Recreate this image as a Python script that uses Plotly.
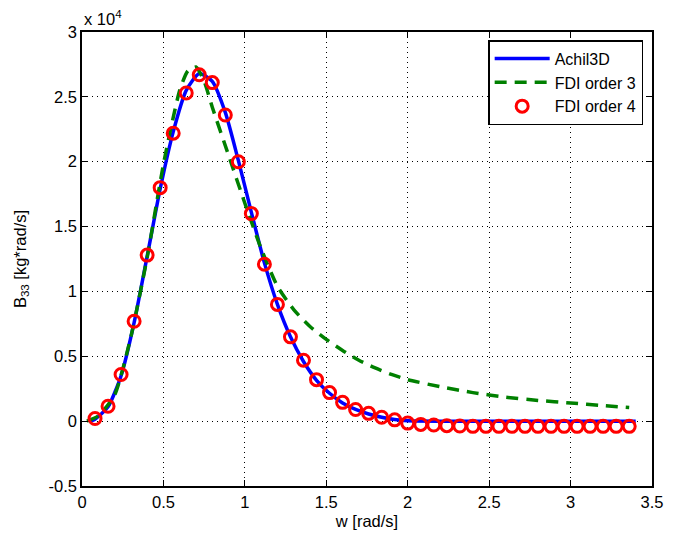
import plotly.graph_objects as go

# ---- data (B33 in kg*rad/s) ----
w_fdi4 = [0.08, 0.16, 0.24, 0.32, 0.40, 0.48, 0.56, 0.64, 0.72, 0.80, 0.88, 0.96, 1.04, 1.12,
          1.20, 1.28, 1.36, 1.44, 1.52, 1.60, 1.68, 1.76, 1.84, 1.92, 2.00, 2.08, 2.16, 2.24,
          2.32, 2.40, 2.48, 2.56, 2.64, 2.72, 2.80, 2.88, 2.96, 3.04, 3.12, 3.20, 3.28, 3.36]
b_fdi4 = [200, 1150, 3600, 7700, 12800, 18000, 22200, 25300, 26700, 26100, 23600, 20000, 16000, 12100,
          9000, 6500, 4700, 3200, 2200, 1450, 900, 600, 300, 100, -150, -250, -300, -350,
          -380, -400, -400, -400, -400, -400, -400, -400, -400, -400, -400, -400, -400, -400]

w_achil = [0.05, 0.08, 0.16, 0.24, 0.32, 0.40, 0.48, 0.56, 0.64, 0.72, 0.80, 0.88, 0.96, 1.04,
           1.12, 1.20, 1.28, 1.36, 1.44, 1.52, 1.60, 1.68, 1.76, 1.84, 1.92, 2.00, 2.20, 2.50,
           2.80, 3.10, 3.40]
b_achil = [0, 150, 1100, 3500, 7600, 12700, 17900, 22300, 25500, 26800, 26200, 23800, 20100, 16100,
           12200, 9000, 6500, 4600, 3150, 2150, 1400, 900, 550, 300, 120, 30, 0, 0,
           0, 0, 0]

w_fdi3 = [0.03, 0.10, 0.20, 0.30, 0.40, 0.50, 0.60, 0.65, 0.70, 0.75, 0.80, 0.90, 1.00, 1.10,
          1.20, 1.30, 1.40, 1.50, 1.60, 1.70, 1.80, 1.90, 2.00, 2.20, 2.40, 2.60, 2.80, 3.00,
          3.20, 3.36]
b_fdi3 = [0, 400, 2000, 6500, 12600, 19800, 25500, 27000, 27300, 26200, 24200, 20500, 16800, 13300,
          10400, 8600, 7300, 6300, 5450, 4700, 4100, 3600, 3200, 2650, 2200, 1850, 1600, 1400,
          1200, 1050]

y_ticks = [-5000, 0, 5000, 10000, 15000, 20000, 25000, 30000]
y_tick_labels = ["-0.5", "0", "0.5", "1", "1.5", "2", "2.5", "3"]
x_ticks = [0, 0.5, 1, 1.5, 2, 2.5, 3, 3.5]
x_tick_labels = ["0", "0.5", "1", "1.5", "2", "2.5", "3", "3.5"]

FONT = "Liberation Sans, Arial, Helvetica, sans-serif"

fig = go.Figure()
fig.add_trace(go.Scatter(x=w_achil, y=b_achil, mode="lines", name="Achil3D",
                         line=dict(color="#0000FF", width=3.5, shape="spline", smoothing=0.6)))
fig.add_trace(go.Scatter(x=w_fdi3, y=b_fdi3, mode="lines", name="FDI order 3",
                         line=dict(color="#008000", width=3.5, dash="12px,8px", shape="spline", smoothing=0.6)))
fig.add_trace(go.Scatter(x=w_fdi4, y=b_fdi4, mode="markers", name="FDI order 4",
                         marker=dict(symbol="circle-open", size=12, color="#FF0000",
                                     line=dict(width=3, color="#FF0000"))))

axis_common = dict(
    showline=True, linecolor="black", linewidth=1.5, mirror="ticks",
    ticks="inside", ticklen=6, tickcolor="black", tickwidth=1,
    showgrid=True, gridcolor="black", gridwidth=1, griddash="1px,4px",
    zeroline=False, tickfont=dict(family=FONT, size=16.5, color="black"),
)

fig.update_xaxes(range=[0, 3.5], tickvals=x_ticks, ticktext=x_tick_labels,
                 title=dict(text="w [rad/s]", font=dict(family=FONT, size=16.5, color="black"), standoff=6),
                 **axis_common)
fig.update_yaxes(range=[-5000, 30000], tickvals=y_ticks, ticktext=y_tick_labels,
                 title=dict(text="B<sub>33</sub> [kg*rad/s]", font=dict(family=FONT, size=16.5, color="black"), standoff=18),
                 **axis_common)

fig.add_annotation(text="x 10<sup>4</sup>", xref="paper", yref="paper", x=0, y=1,
                   xanchor="left", yanchor="bottom", yshift=2, showarrow=False,
                   font=dict(family=FONT, size=16.5, color="black"))

fig.update_layout(
    width=675, height=540,
    margin=dict(l=82, r=13, t=32, b=52),
    paper_bgcolor="white", plot_bgcolor="white",
    font=dict(family=FONT, size=16.5, color="black"),
    legend=dict(x=0.9845, y=0.982, xanchor="right", yanchor="top",
                bgcolor="white", bordercolor="black", borderwidth=1.5,
                font=dict(family=FONT, size=16, color="black"),
                tracegroupgap=0, itemwidth=55),
    showlegend=True,
)

fig.write_html("out.html")
